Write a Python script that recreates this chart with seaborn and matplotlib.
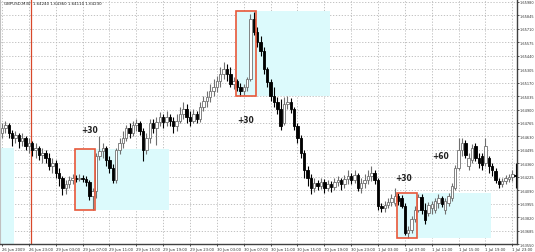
import numpy as np
import pandas as pd
import matplotlib
matplotlib.use("Agg")
import matplotlib.pyplot as plt
import seaborn as sns
from matplotlib.patches import Rectangle

# ---------------- data (GBPUSD, M30 candles) ----------------
opens = [1.6466,1.6471,1.6474,1.6466,1.6461,1.6464,1.6458,1.6461,1.6453,1.6456,
         1.6449,1.6451,1.6444,1.6446,1.6441,1.6433,1.6436,1.6426,1.6421,1.6411,
         1.6415,1.6419,1.6421,1.6420,1.6421,1.6420,1.6417,1.6403,1.6408,1.6443,
         1.6448,1.6451,1.6439,1.6431,1.6419,1.6449,1.6456,1.6461,1.6471,1.6466,
         1.6474,1.6476,1.6468,1.6449,1.6461,1.6476,1.6471,1.6478,1.6483,1.6477,
         1.6483,1.6479,1.6473,1.6479,1.6486,1.6491,1.6483,1.6479,1.6486,1.6481,
         1.6493,1.6499,1.6503,1.6509,1.6513,1.6519,1.6526,1.6531,1.6526,1.6516,
         1.6519,1.6513,1.6509,1.6513,1.6521,1.6581,1.6568,1.6558,1.6549,1.6531,
         1.6518,1.6504,1.6498,1.6491,1.6476,1.6496,1.6498,1.6491,1.6473,1.6461,
         1.6446,1.6429,1.6421,1.6411,1.6416,1.6413,1.6417,1.6411,1.6415,1.6412,
         1.6417,1.6419,1.6415,1.6420,1.6423,1.6419,1.6424,1.6411,1.6416,1.6419,
         1.6423,1.6426,1.6419,1.6393,1.6391,1.6394,1.6397,1.6396,1.6403,1.6401,
         1.6393,1.6366,1.6369,1.6380,1.6389,1.6402,1.6389,1.6386,1.6391,1.6389,
         1.6396,1.6401,1.6389,1.6396,1.6401,1.6411,1.6431,1.6449,1.6456,1.6433,
         1.6439,1.6453,1.6441,1.6443,1.6436,1.6441,1.6433,1.6428,1.6418,1.6415,
         1.6418,1.6420,1.6422,1.6424]
closes = [1.6471,1.6474,1.6466,1.6461,1.6464,1.6458,1.6461,1.6453,1.6456,1.6449,
          1.6451,1.6444,1.6446,1.6441,1.6433,1.6436,1.6426,1.6421,1.6411,1.6415,
          1.6419,1.6421,1.6420,1.6421,1.6420,1.6417,1.6403,1.6408,1.6443,1.6448,
          1.6451,1.6439,1.6431,1.6419,1.6449,1.6456,1.6461,1.6471,1.6466,1.6474,
          1.6476,1.6468,1.6449,1.6461,1.6476,1.6471,1.6478,1.6483,1.6477,1.6483,
          1.6479,1.6473,1.6479,1.6486,1.6491,1.6483,1.6479,1.6486,1.6481,1.6493,
          1.6499,1.6503,1.6509,1.6513,1.6519,1.6526,1.6531,1.6526,1.6516,1.6519,
          1.6513,1.6509,1.6513,1.6521,1.6581,1.6568,1.6558,1.6549,1.6531,1.6518,
          1.6504,1.6498,1.6491,1.6473,1.6496,1.6498,1.6491,1.6473,1.6461,1.6446,
          1.6429,1.6421,1.6411,1.6416,1.6413,1.6417,1.6411,1.6415,1.6412,1.6417,
          1.6419,1.6415,1.6420,1.6423,1.6419,1.6424,1.6411,1.6416,1.6419,1.6423,
          1.6426,1.6419,1.6393,1.6391,1.6394,1.6397,1.6401,1.6403,1.6398,1.6393,
          1.6366,1.6369,1.6380,1.6389,1.6402,1.6389,1.6379,1.6394,1.6395,1.6398,
          1.6401,1.6395,1.6398,1.6403,1.6413,1.6431,1.6449,1.6456,1.6444,1.6441,
          1.6451,1.6441,1.6436,1.6434,1.6453,1.6433,1.6429,1.6419,1.6415,1.6418,
          1.6421,1.6422,1.6425,1.6423]
highs = [1.6476,1.6479,1.6476,1.6469,1.6468,1.6466,1.6466,1.6463,1.6461,1.6458,
         1.6456,1.6453,1.6451,1.6449,1.6446,1.6441,1.6439,1.6431,1.6423,1.6419,
         1.6423,1.6425,1.6424,1.6425,1.6424,1.6423,1.6419,1.6411,1.6446,1.6463,
         1.6456,1.6453,1.6443,1.6435,1.6451,1.6461,1.6468,1.6474,1.6476,1.6479,
         1.6481,1.6479,1.6471,1.6466,1.6481,1.6481,1.6483,1.6488,1.6486,1.6489,
         1.6486,1.6483,1.6486,1.6493,1.6498,1.6496,1.6489,1.6491,1.6489,1.6498,
         1.6504,1.6509,1.6516,1.6521,1.6524,1.6533,1.6538,1.6536,1.6533,1.6523,
         1.6521,1.6517,1.6516,1.6523,1.6586,1.6588,1.6573,1.6564,1.6553,1.6533,
         1.6521,1.6513,1.6503,1.6501,1.6503,1.6504,1.6502,1.6493,1.6476,1.6464,
         1.6449,1.6433,1.6425,1.6421,1.6419,1.6421,1.6420,1.6419,1.6418,1.6421,
         1.6423,1.6421,1.6424,1.6429,1.6426,1.6429,1.6426,1.6421,1.6425,1.6429,
         1.6433,1.6429,1.6421,1.6396,1.6398,1.6401,1.6405,1.6411,1.6406,1.6404,
         1.6396,1.6373,1.6383,1.6393,1.6405,1.6405,1.6396,1.6397,1.6398,1.6401,
         1.6405,1.6403,1.6401,1.6406,1.6416,1.6434,1.6461,1.6461,1.6459,1.6446,
         1.6455,1.6456,1.6446,1.6446,1.6461,1.6443,1.6436,1.6431,1.6421,1.6421,
         1.6424,1.6425,1.6429,1.6436]
lows = [1.6461,1.6466,1.6461,1.6453,1.6456,1.6451,1.6453,1.6449,1.6446,1.6443,
        1.6441,1.6439,1.6436,1.6436,1.6429,1.6426,1.6421,1.6413,1.6404,1.6405,
        1.6411,1.6415,1.6417,1.6418,1.6417,1.6413,1.6399,1.6389,1.6401,1.6439,
        1.6441,1.6433,1.6426,1.6416,1.6416,1.6445,1.6451,1.6458,1.6461,1.6463,
        1.6468,1.6464,1.6438,1.6445,1.6456,1.6466,1.6454,1.6473,1.6471,1.6473,
        1.6473,1.6466,1.6468,1.6476,1.6481,1.6476,1.6473,1.6476,1.6476,1.6478,
        1.6489,1.6493,1.6498,1.6504,1.6508,1.6513,1.6521,1.6519,1.6513,1.6511,
        1.6509,1.6504,1.6505,1.6509,1.6519,1.6565,1.6553,1.6544,1.6526,1.6513,
        1.6499,1.6493,1.6486,1.6469,1.6474,1.6491,1.6487,1.6469,1.6456,1.6441,
        1.6421,1.6413,1.6405,1.6407,1.6409,1.6410,1.6406,1.6408,1.6407,1.6409,
        1.6413,1.6409,1.6411,1.6415,1.6415,1.6416,1.6408,1.6406,1.6411,1.6415,
        1.6418,1.6415,1.6389,1.6387,1.6387,1.6391,1.6393,1.6393,1.6394,1.6391,
        1.6364,1.6361,1.6366,1.6377,1.6387,1.6385,1.6375,1.6383,1.6385,1.6386,
        1.6391,1.6392,1.6385,1.6393,1.6398,1.6409,1.6429,1.6443,1.6441,1.6429,
        1.6436,1.6438,1.6431,1.6429,1.6433,1.6426,1.6423,1.6416,1.6411,1.6412,
        1.6415,1.6417,1.6418,1.6411]

price_ticks = [1.65980 - 0.00135 * k for k in range(19)]
time_labels = ["26 Jun 2009", "26 Jun 23:00", "29 Jun 03:00", "29 Jun 07:00",
               "29 Jun 11:00", "29 Jun 15:00", "29 Jun 19:00", "29 Jun 23:00",
               "30 Jun 03:00", "30 Jun 07:00", "30 Jun 11:00", "30 Jun 15:00",
               "30 Jun 19:00", "30 Jun 23:00", "1 Jul 03:00", "1 Jul 07:00",
               "1 Jul 11:00", "1 Jul 15:00", "1 Jul 19:00", "1 Jul 23:00"]
label_step = 8  # bars between time labels (4 hours of M30 bars)

# trade boxes: start bar, price top, price bottom
box_start = [22, 70, 118]
box_top = [1.6450, 1.6589, 1.6406]
box_bottom = [1.6389, 1.6504, 1.6361]
left_zone = (-24, 1.6451, 1.6350)
annot_text = ["+30", "+30", "+30", "+60"]
annot_bar = [26.1, 72.7, 119.6, 130.6]
annot_price = [1.6470, 1.6480, 1.6422, 1.6444]
separator_bar = 8.7
title_text = "GBPUSD,M30  1.64240 1.64360 1.64110 1.64230"

# ---------------- drawing ----------------
sns.set_theme(style="white")
plt.rcParams['font.family'] = ['DejaVu Sans']

df = pd.DataFrame({"open": opens, "close": closes, "high": highs, "low": lows})
df["bar"] = np.arange(len(df))
df["bull"] = df["close"] >= df["open"]

fig = plt.figure(figsize=(5.35, 2.53), dpi=100)
ax = fig.add_axes([0.0, 1 - 245 / 253, 517 / 535, 245 / 253])
ax.set_facecolor("white")

xmin, xmax = -0.6, 153.4
ymin, ymax = 1.6356, 1.6601
ax.set_xlim(xmin, xmax)
ax.set_ylim(ymin, ymax)

# grid
for p in price_ticks:
    ax.axhline(p, color="#b8b8b8", lw=0.6, ls=(0, (1.5, 2)), zorder=0)
for k in range(len(time_labels)):
    ax.axvline(k * label_step, color="#b8b8b8", lw=0.6, ls=(0, (1.5, 2)), zorder=0)

cyan = "#dcfafc"
boxred = "#e8583a"
ax.add_patch(Rectangle((left_zone[0] - 0.4, left_zone[2]), 28, left_zone[1] - left_zone[2],
                       facecolor=cyan, edgecolor="none", zorder=1))
for s, t, b in zip(box_start, box_top, box_bottom):
    ax.add_patch(Rectangle((s - 0.4, b), 28, t - b, facecolor=cyan,
                           edgecolor="none", zorder=1))
    ax.add_patch(Rectangle((s - 0.4, b), 6, t - b, facecolor="none",
                           edgecolor=boxred, lw=1.2, zorder=4))

ax.axvline(separator_bar, color="#d8482a", lw=0.9, zorder=2)

# candles
bull = df[df["bull"]]
bear = df[~df["bull"]]
ax.vlines(bull["bar"], bull["low"], bull["high"], color="#707070", lw=0.8, zorder=2)
ax.vlines(bear["bar"], bear["low"], bear["high"], color="#000000", lw=0.8, zorder=2)
bh = (df["close"] - df["open"]).abs().clip(lower=0.00003)
bb = df[["open", "close"]].min(axis=1)
ax.bar(bull["bar"], bh[df["bull"]], bottom=bb[df["bull"]], width=0.72,
       color="white", edgecolor="#707070", linewidth=0.6, zorder=3)
ax.bar(bear["bar"], bh[~df["bull"]], bottom=bb[~df["bull"]], width=0.72,
       color="black", edgecolor="black", linewidth=0.6, zorder=3)

for t, xb, yp in zip(annot_text, annot_bar, annot_price):
    ax.text(xb, yp, t, ha="center", va="center", fontsize=5.5,
            color="#202020", fontweight="bold", zorder=5)

ax.text(0.5, ymax - 0.0004, title_text, fontsize=2.9, color="#202020",
        ha="left", va="center", zorder=5)

# axes
ax.yaxis.tick_right()
ax.set_yticks(price_ticks)
ax.set_yticklabels([f"{p:.5f}" for p in price_ticks], fontsize=2.5, color="#303030")
ax.set_xticks([k * label_step for k in range(len(time_labels))])
ax.set_xticklabels(time_labels, fontsize=2.7, color="#303030", ha="left")
ax.tick_params(axis="y", length=1.2, width=0.6, pad=0.8, right=True, colors="#303030")
ax.tick_params(axis="x", length=1.5, width=0.6, pad=1.0, bottom=True, colors="#303030")
ax.spines["top"].set_visible(False)
ax.spines["left"].set_color("#c0c0c0")
ax.spines["left"].set_linewidth(0.8)
ax.spines["right"].set_color("#404040")
ax.spines["right"].set_linewidth(1.0)
ax.spines["bottom"].set_color("#404040")
ax.spines["bottom"].set_linewidth(1.0)
ax.grid(False)

fig.savefig("out.png", dpi=100, facecolor="white")
